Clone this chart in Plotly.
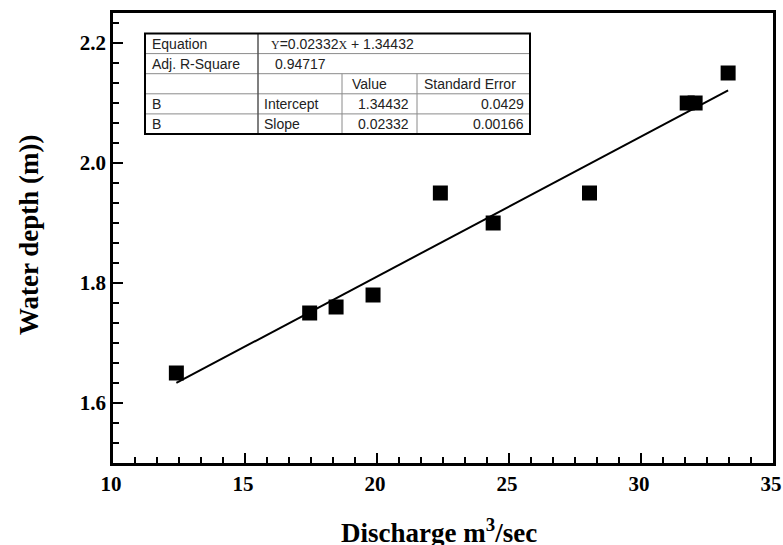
import plotly.graph_objects as go

# ---- data ----
discharge = [12.4, 17.45, 18.45, 19.85, 22.4, 24.4, 28.05, 31.75, 32.05, 33.3]
depth = [1.65, 1.75, 1.76, 1.78, 1.95, 1.90, 1.95, 2.10, 2.10, 2.15]
slope = 0.02332
intercept = 1.34432
slope_se = 0.00166
intercept_se = 0.0429
adj_r2 = 0.94717
x_ticks = [10, 15, 20, 25, 30, 35]
y_ticks = [1.6, 1.8, 2.0, 2.2]

fit_x = [min(discharge), max(discharge)]
fit_y = [slope * v + intercept for v in fit_x]

# page body margin is removed (see post_script), so the figure fills the window
W, H = 783, 545
L, R, T, B = 113, 773, 13, 463     # plot area in window pixels
SERIF = "Liberation Serif, Times New Roman, serif"
SANS = "Liberation Sans, Arial, sans-serif"

def px(x):
    return (x - L) / (R - L)

def py(y):
    return (B - y) / (B - T)

fig = go.Figure()
fig.add_trace(go.Scatter(x=fit_x, y=fit_y, mode="lines",
                         line=dict(color="black", width=2), showlegend=False))
fig.add_trace(go.Scatter(x=discharge, y=depth, mode="markers",
                         marker=dict(symbol="square", size=15, color="black"),
                         showlegend=False))

axis_common = dict(showline=True, linecolor="black", linewidth=2.5, mirror=True,
                   ticks="inside", ticklen=10, tickwidth=2, tickcolor="black",
                   showgrid=False, zeroline=False, ticklabeloverflow="allow",
                   automargin=False,
                   tickfont=dict(family=SERIF, size=21, color="black", weight="bold"))
fig.update_xaxes(range=[10, 35], tickvals=x_ticks, ticklabelshift=-2,
                 minor=dict(ticks="inside", ticklen=6, tickwidth=2, tickcolor="black",
                            dtick=5 / 6, tick0=10, showgrid=False),
                 **axis_common)
fig.update_yaxes(range=[1.5, 2.25], tickvals=y_ticks, tickformat=".1f",
                 minor=dict(ticks="inside", ticklen=6, tickwidth=2, tickcolor="black",
                            dtick=0.2 / 6, tick0=1.6, showgrid=False),
                 **axis_common)

# ---- fit-result table ----
tl, tr = 145, 530
cols = [145, 258, 342, 417, 530]
tt, tb = 33.5, 134
nrows = 5
rh = (tb - tt) / nrows
rows = [tt + i * rh for i in range(nrows + 1)]

shapes = []
shapes.append(dict(type="rect", xref="paper", yref="paper", x0=px(tl), x1=px(tr),
                   y0=py(tb), y1=py(tt), fillcolor="white", line=dict(width=0), layer="above"))
for r in rows[1:-1]:
    shapes.append(dict(type="line", xref="paper", yref="paper", x0=px(tl), x1=px(tr),
                       y0=py(r), y1=py(r), line=dict(color="#8a8a8a", width=1)))
shapes.append(dict(type="line", xref="paper", yref="paper", x0=px(cols[1]), x1=px(cols[1]),
                   y0=py(tb), y1=py(tt), line=dict(color="#555555", width=1.5)))
for c in cols[2:4]:
    shapes.append(dict(type="line", xref="paper", yref="paper", x0=px(c), x1=px(c),
                       y0=py(tb), y1=py(rows[2]), line=dict(color="#8a8a8a", width=1)))
shapes.append(dict(type="rect", xref="paper", yref="paper", x0=px(tl), x1=px(tr),
                   y0=py(tb), y1=py(tt), line=dict(color="black", width=2)))

def rc(i):
    return py(rows[i] + rh / 2)

tf = dict(family=SANS, size=14, color="#222222")
eq_text = ("<span style='font-family:Liberation Serif;font-size:12px'>Y</span>=" + f"{slope:.5f}" +
           "<span style='font-family:Liberation Serif;font-size:12px'>X</span> + " + f"{intercept:.5f}")
cells = [
    ("Equation", cols[0] + 5, 0, "left"),
    (eq_text, cols[1] + 11, 0, "left"),
    ("Adj. R-Square", cols[0] + 5, 1, "left"),
    (f"{adj_r2:.5f}", (cols[1] + cols[2]) / 2, 1, "center"),
    ("Value", cols[2] + 8, 2, "left"),
    ("Standard Error", cols[3] + 5, 2, "left"),
    ("B", cols[0] + 5, 3, "left"),
    ("Intercept", cols[1] + 4, 3, "left"),
    (f"{intercept:.5f}", cols[3] - 6, 3, "right"),
    (f"{intercept_se:.4f}", cols[4] - 4, 3, "right"),
    ("B", cols[0] + 5, 4, "left"),
    ("Slope", cols[1] + 4, 4, "left"),
    (f"{slope:.5f}", cols[3] - 6, 4, "right"),
    (f"{slope_se:.5f}", cols[4] - 4, 4, "right"),
]
annotations = []
for text, x, r, anchor in cells:
    annotations.append(dict(text=text, xref="paper", yref="paper", x=px(x), y=rc(r),
                            xanchor=anchor, yanchor="middle", showarrow=False, font=tf))

annotations.append(dict(text="Water depth (m))", xref="paper", yref="paper",
                        x=px(29), y=py(235), textangle=-90, showarrow=False,
                        xanchor="center", yanchor="middle",
                        font=dict(family=SERIF, size=27, color="black", weight="bold")))
annotations.append(dict(text="Discharge m<sup>3</sup>/sec", xref="paper", yref="paper",
                        x=px(439), y=py(550), showarrow=False,
                        xanchor="center", yanchor="bottom",
                        font=dict(family=SERIF, size=27, color="black", weight="bold")))

fig.update_layout(width=W, height=H, margin=dict(l=L, r=W - R, t=T, b=H - B),
                  plot_bgcolor="white", paper_bgcolor="white",
                  shapes=shapes, annotations=annotations)

fig.write_html("out.html", config={"displayModeBar": False},
               post_script="document.documentElement.style.overflow='hidden';"
                           "document.body.style.margin='0';"
                           "document.body.style.overflow='hidden';")
